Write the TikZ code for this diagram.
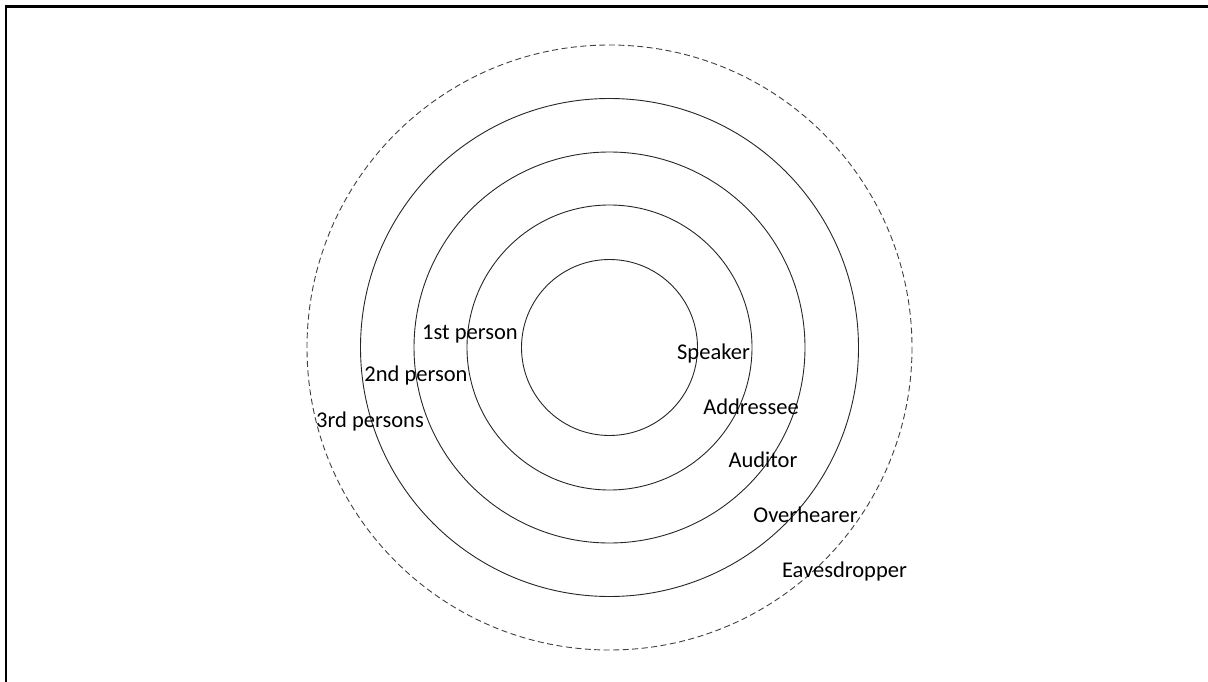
\documentclass[tikz,border=0pt]{standalone}
\usepackage{fontspec}
\setmainfont{Carlito}
\begin{document}
\begin{tikzpicture}[x=1pt,y=-1pt,
  ring/.style={draw=black!85,line width=0.9pt},
  dashring/.style={draw=black!75,line width=0.9pt,dash pattern=on 6pt off 3.5pt},
  lbl/.style={anchor=base,inner sep=0pt,font=\fontsize{22.5}{27}\selectfont,text=black}]
\useasboundingbox (0,0) rectangle (1208,682);
\draw[line width=2.4pt] (6,682) -- (6,6.7) -- (1208,6.7);
\coordinate (c) at (609.5,347.5);
\draw[ring] (c) circle[radius=88];
\draw[ring] (c) circle[radius=142.5];
\draw[ring] (c) circle[radius=195.5];
\draw[ring] (c) circle[radius=249];
\draw[dashring] (c) circle[radius=302.5];
\node[lbl] (p1) at (470,339) {1st person};
\node[lbl] (p2) at (416,381) {2nd person};
\node[lbl] (p3) at (370,427) {3rd persons};
\node[lbl] (sp) at (713.5,359) {Speaker};
\node[lbl] (ad) at (751,414) {Addressee};
\node[lbl] (au) at (763,467) {Auditor};
\node[lbl] (ov) at (805.5,522) {Overhearer};
\node[lbl] (ea) at (844.5,577) {Eavesdropper};
\end{tikzpicture}
\end{document}
